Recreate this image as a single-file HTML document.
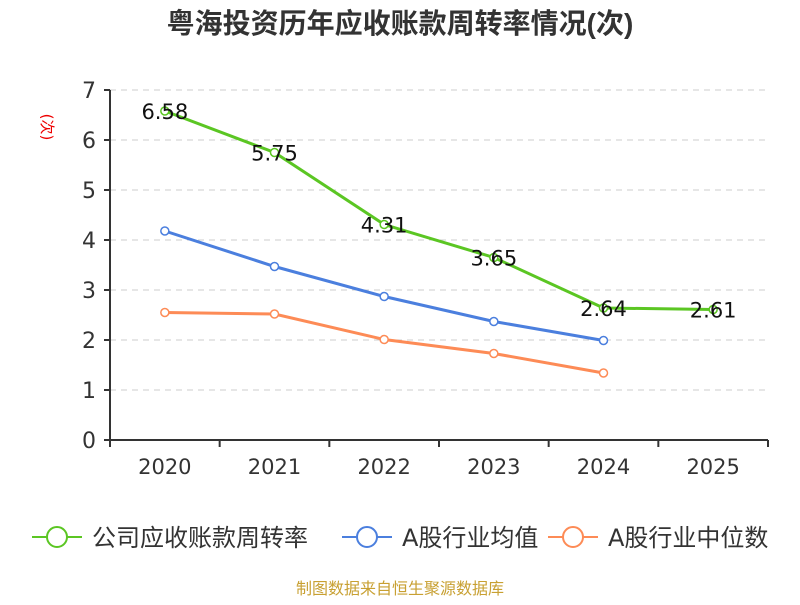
<!DOCTYPE html>
<html><head><meta charset="utf-8"><style>
body{margin:0;background:#fff;font-family:"Liberation Sans","Noto Sans CJK SC",sans-serif}
</style></head><body>
<svg id="c" width="800" height="600" xmlns="http://www.w3.org/2000/svg" style="font-family:'DejaVu Sans','Noto Sans CJK SC',sans-serif">
<text x="400" y="33" text-anchor="middle" font-size="28" font-weight="bold" fill="#333" style="font-family:'Liberation Sans','Noto Sans CJK SC',sans-serif">粤海投资历年应收账款周转率情况(次)</text>
<text transform="translate(42,127) rotate(90)" text-anchor="middle" font-size="15" fill="#e00">(次)</text>
<g id="grid"></g><g id="axes"></g><g id="series"></g><g id="legend"></g>
<text x="400" y="594" text-anchor="middle" font-size="16" fill="#c8a032">制图数据来自恒生聚源数据库</text>
</svg>
<script>
const categories=["2020","2021","2022","2023","2024","2025"];
const yTicks=[0,1,2,3,4,5,6,7];
const companyVals=[6.58,5.75,4.31,3.65,2.64,2.61];
const companyLabels=["6.58","5.75","4.31","3.65","2.64","2.61"];
const avgVals=[4.18,3.47,2.87,2.37,1.99];
const medVals=[2.55,2.52,2.01,1.73,1.34];
const NS="http://www.w3.org/2000/svg";
const L=110,R=768,T=90,B=440,ymax=7;
const bw=(R-L)/categories.length;
const xs=i=>L+bw*(i+0.5);
const ys=v=>B-(v/ymax)*(B-T);
function mk(p,tag,at){const e=document.createElementNS(NS,tag);for(const k in at)e.setAttribute(k,at[k]);p.appendChild(e);return e;}
const grid=document.getElementById('grid'),axes=document.getElementById('axes'),ser=document.getElementById('series'),leg=document.getElementById('legend');
yTicks.forEach(t=>{
 if(t>0){const g=mk(grid,'line',{x1:L,x2:R,y1:ys(t),y2:ys(t),stroke:'#ccc','stroke-dasharray':'6,5'});
 
 }
 const tk=mk(axes,'line',{x1:L-6,x2:L,y1:ys(t),y2:ys(t),stroke:'#333','stroke-width':2});
 
 
 const tx=mk(axes,'text',{x:L-14,y:ys(t)+8,'text-anchor':'end','font-size':22,fill:'#333'});tx.textContent=t;
 
 
});
const ya=mk(axes,'line',{x1:L,x2:L,y1:T,y2:B,stroke:'#333','stroke-width':2});


const xa=mk(axes,'line',{x1:L,x2:R,y1:B,y2:B,stroke:'#333','stroke-width':2});


for(let i=0;i<=categories.length;i++){const t=mk(axes,'line',{x1:L+bw*i,x2:L+bw*i,y1:B,y2:B+7,stroke:'#333','stroke-width':2});
 
 }
categories.forEach((c,i)=>{const t=mk(axes,'text',{x:xs(i),y:B+34,'text-anchor':'middle','font-size':21,fill:'#333'});t.textContent=c;
 
 });
function series(vals,color,name){
 const g=mk(ser,'g',{});
 
 
 const pl=mk(g,'polyline',{points:vals.map((v,i)=>xs(i)+','+ys(v)).join(' '),fill:'none',stroke:color,'stroke-width':3});
 
 
 vals.forEach((v,i)=>{const p=mk(g,'circle',{cx:xs(i),cy:ys(v),r:4,fill:'#fff',stroke:color,'stroke-width':1.5});
  
  });
}
series(medVals,'#fd8b56','median');
series(avgVals,'#4b7fde','average');
series(companyVals,'#5bc623','company');
companyVals.forEach((v,i)=>{const t=mk(ser,'text',{x:xs(i),y:ys(v)+8,'text-anchor':'middle','font-size':21,fill:'#111'});t.textContent=companyLabels[i];
 
 });
const items=[["公司应收账款周转率",'#5bc623',32],["A股行业均值",'#4b7fde',342],["A股行业中位数",'#fd8b56',548]];
items.forEach(([n,c,x])=>{
 const g=mk(leg,'g',{});
 
 
 mk(g,'line',{x1:x,x2:x+50,y1:537,y2:537,stroke:c,'stroke-width':2});
 mk(g,'circle',{cx:x+25,cy:537,r:10,fill:'#fff',stroke:c,'stroke-width':2});
 const t=mk(g,'text',{x:x+60,y:546,'font-size':24,fill:'#333'});t.textContent=n;
});
</script>
</body></html>
